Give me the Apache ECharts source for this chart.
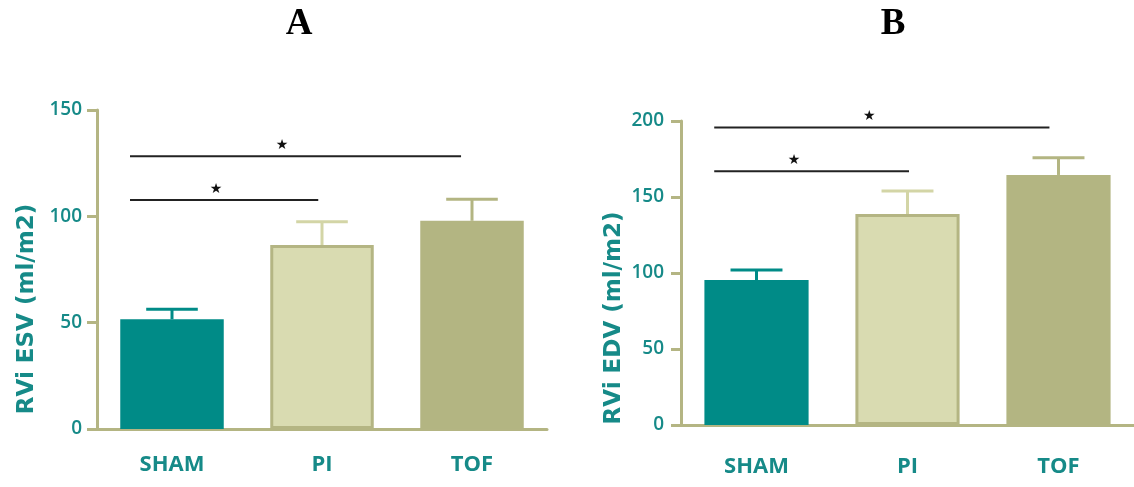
<!DOCTYPE html>
<html><head><meta charset="utf-8">
<script src="https://cdn.jsdelivr.net/npm/echarts@6/dist/echarts.min.js"></script>
<style>html,body{margin:0;padding:0;background:#fff}#c{width:1134px;height:487px}</style>
</head><body><div id="c"></div>
<script>
const categories = ['SHAM', 'PI', 'TOF'];
const panelTitles = ['A', 'B'];
const yNames = ['RVi ESV (ml/m2)', 'RVi EDV (ml/m2)'];
const yTicksA = [0, 50, 100, 150];
const yTicksB = [0, 50, 100, 150, 200];
// Panel A: RVi ESV
const esvMean = [51.6, 86.5, 97.9];
const esvErr = [4.7, 11.0, 10.1];
// Panel B: RVi EDV
const edvMean = [95.4, 138.8, 164.5];
const edvErr = [6.6, 15.2, 11.4];
// significance brackets: [y value, start (category units from SHAM), end, star position]
const sigA = [[107.7, -0.28, 0.975, 0.293], [128.3, -0.28, 1.927, 0.733]];
const sigB = [[167.0, -0.28, 1.01, 0.248], [195.8, -0.28, 1.94, 0.747]];

const TEAL_TXT = '#168a88';
const AXIS = '#b4b583';
const barFill = ['#008b87', '#d9dbb1', '#b3b582'];
const barBorder = ['#008b87', '#b4b583', '#b3b582'];
const errColor = ['#008b87', '#d3d5a6', '#b3b582'];

const chart = echarts.init(document.getElementById('c'));

function barData(vals) {
  return vals.map((v, i) => ({
    value: v,
    itemStyle: { color: barFill[i], borderColor: barBorder[i], borderWidth: i === 1 ? 3 : 0 }
  }));
}
function errData(mean, err) { return mean.map((m, i) => [i, m, err[i]]); }
function sigData(sig) { return sig.map(s => [0, s[0], s[1], s[2], s[3]]); }

function renderErr(params, api) {
  const i = api.value(0), m = api.value(1), e = api.value(2);
  const p0 = api.coord([i, m]);
  const p1 = api.coord([i, m + e]);
  const band = api.size([1, 0])[0];
  const half = band * 0.172;
  const st = { stroke: errColor[i], lineWidth: 3 };
  return { type: 'group', children: [
    { type: 'line', shape: { x1: p0[0], y1: p0[1], x2: p1[0], y2: p1[1] }, style: st },
    { type: 'line', shape: { x1: p1[0] - half, y1: p1[1], x2: p1[0] + half, y2: p1[1] }, style: st }
  ]};
}
function renderSig(params, api) {
  const y = api.value(1), x0 = api.value(2), x1 = api.value(3), xs = api.value(4);
  const base = api.coord([0, y]);
  const band = api.size([1, 0])[0];
  return { type: 'group', children: [
    { type: 'line', shape: { x1: base[0] + x0 * band, y1: base[1], x2: base[0] + x1 * band, y2: base[1] },
      style: { stroke: '#222', lineWidth: 2 } },
    { type: 'text', x: base[0] + xs * band, y: base[1] - 11,
      style: { text: '★', fill: '#111', font: '14px "DejaVu Sans"', textAlign: 'center', textVerticalAlign: 'middle' } }
  ]};
}

function xAx(gi, margin) {
  return {
    type: 'category', gridIndex: gi, data: categories,
    axisLine: { lineStyle: { color: AXIS, width: 3 } },
    axisTick: { alignWithLabel: true, length: 9, lineStyle: { color: AXIS, width: 3 } },
    axisLabel: { color: TEAL_TXT, fontSize: 22, fontWeight: 'bold', fontFamily: 'Open Sans', margin: margin }
  };
}
function yAx(gi, ticks, margin) {
  return {
    type: 'value', gridIndex: gi, min: ticks[0], max: ticks[ticks.length - 1], interval: ticks[1] - ticks[0],
    axisLine: { show: true, lineStyle: { color: AXIS, width: 3 } },
    axisTick: { show: true, length: 10, lineStyle: { color: AXIS, width: 3 } },
    axisLabel: { color: TEAL_TXT, fontSize: 19, fontWeight: 600, fontFamily: 'Open Sans', margin: margin },
    splitLine: { show: false }
  };
}
const nameFont = 'bold 23px "DejaVu Sans"';

chart.setOption({
  animation: false,
  backgroundColor: '#fff',
  graphic: [
    { type: 'text', x: 299, y: 24, style: { text: panelTitles[0], font: 'bold 37px "Liberation Serif"', fill: '#000', textAlign: 'center', textVerticalAlign: 'middle' } },
    { type: 'text', x: 893, y: 24, style: { text: panelTitles[1], font: 'bold 37px "Liberation Serif"', fill: '#000', textAlign: 'center', textVerticalAlign: 'middle' } },
    { type: 'text', x: 27, y: 309, rotation: Math.PI / 2, style: { text: yNames[0], font: nameFont, fill: TEAL_TXT, textAlign: 'center', textVerticalAlign: 'middle' } },
    { type: 'text', x: 614, y: 318, rotation: Math.PI / 2, style: { text: yNames[1], font: nameFont, fill: TEAL_TXT, textAlign: 'center', textVerticalAlign: 'middle' } }
  ],
  grid: [
    { left: 97, top: 110, width: 450, height: 319 },
    { left: 681, top: 121, width: 455, height: 304 }
  ],
  xAxis: [xAx(0, 25), xAx(1, 31)],
  yAxis: [yAx(0, yTicksA, 15), yAx(1, yTicksB, 17)],
  series: [
    { type: 'bar', xAxisIndex: 0, yAxisIndex: 0, barWidth: '69%', data: barData(esvMean), z: 3 },
    { type: 'bar', xAxisIndex: 1, yAxisIndex: 1, barWidth: '69%', data: barData(edvMean), z: 3 },
    { type: 'custom', xAxisIndex: 0, yAxisIndex: 0, renderItem: renderErr, data: errData(esvMean, esvErr), clip: false, z: 2 },
    { type: 'custom', xAxisIndex: 1, yAxisIndex: 1, renderItem: renderErr, data: errData(edvMean, edvErr), clip: false, z: 2 },
    { type: 'custom', xAxisIndex: 0, yAxisIndex: 0, renderItem: renderSig, data: sigData(sigA), clip: false, z: 4 },
    { type: 'custom', xAxisIndex: 1, yAxisIndex: 1, renderItem: renderSig, data: sigData(sigB), clip: false, z: 4 }
  ]
});
</script></body></html>
